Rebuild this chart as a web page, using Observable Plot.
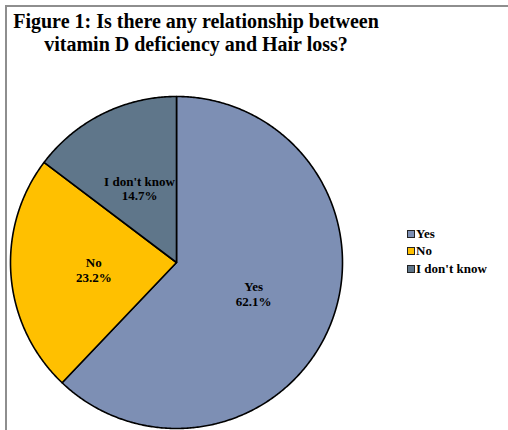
<!DOCTYPE html>
<html>
<head>
<meta charset="utf-8">
<script src="https://cdn.jsdelivr.net/npm/d3@7"></script>
<script src="https://cdn.jsdelivr.net/npm/@observablehq/plot@0.6"></script>
<style>
  html, body { margin: 0; padding: 0; background: #fff; }
  #wrap { position: relative; width: 508px; height: 430px; overflow: hidden; font-family: "Liberation Serif", "Times New Roman", serif; }
  #frame { position: absolute; left: 5px; top: 5px; width: 600px; height: 600px; border-left: 2px solid #8e8e8e; border-top: 2px solid #8e8e8e; }
  #title { position: absolute; left: 0; top: 10px; width: 392px; text-align: center; font-weight: bold; font-size: 20px; line-height: 23px; color: #000; }
  #chart { position: absolute; left: 0; top: 80px; }
  #legend { position: absolute; left: 407px; top: 225px; font-weight: bold; font-size: 13px; color: #000; }
  .li { display: flex; align-items: center; height: 17.5px; white-space: nowrap; }
  .sw { width: 6px; height: 6px; border: 1px solid #222; margin-right: 1px; }
</style>
</head>
<body>
<div id="wrap">
  <div id="frame"></div>
  <div id="title">Figure 1: Is there any relationship between<br>vitamin D deficiency and Hair loss?</div>
  <div id="chart"></div>
  <div id="legend"></div>
</div>
<script>
const categories = ["Yes", "No", "I don't know"];
const percents = [62.1, 23.2, 14.7];
const colors = ["#7d8fb4", "#ffc000", "#5f768a"];

const W = 508, H = 350;
const cx = 176, cy = 182, r = 166;

// slice polygons in unit space, clockwise from 12 o'clock
const total = d3.sum(percents);
const polyRows = [];
const labelRows = [];
let acc = 0;
categories.forEach((c, i) => {
  const a0 = acc / total * 2 * Math.PI;
  acc += percents[i];
  const a1 = acc / total * 2 * Math.PI;
  const n = Math.max(2, Math.ceil((a1 - a0) / (Math.PI / 360)));
  polyRows.push({key: c, color: colors[i], x: 0, y: 0});
  for (let k = 0; k <= n; k++) {
    const a = a0 + (a1 - a0) * k / n;
    polyRows.push({key: c, color: colors[i], x: Math.sin(a), y: Math.cos(a)});
  }
  polyRows.push({key: c, color: colors[i], x: 0, y: 0});
  const am = (a0 + a1) / 2;
  labelRows.push({x: 0.5 * Math.sin(am), y: 0.5 * Math.cos(am), text: c + "\n" + percents[i].toFixed(1) + "%"});
});

const chart = Plot.plot({
  width: W,
  height: H,
  margin: 0,
  x: {type: "linear", domain: [-1, 1], range: [cx - r, cx + r], axis: null},
  y: {type: "linear", domain: [-1, 1], range: [cy - r, cy + r], axis: null},
  style: {background: "transparent", overflow: "visible"},
  marks: [
    Plot.line(polyRows, {x: "x", y: d => -d.y, z: "key", fill: "color", stroke: "black", strokeWidth: 1.6, strokeLinejoin: "round"}),
    Plot.text(labelRows, {x: "x", y: d => -d.y, text: "text", fontFamily: "Liberation Serif", fontWeight: "bold", fontSize: 13, lineHeight: 1.15, fill: "black"})
  ]
});
document.getElementById("chart").appendChild(chart);

const legend = document.getElementById("legend");
categories.forEach((c, i) => {
  const row = document.createElement("div");
  row.className = "li";
  const sw = document.createElement("span");
  sw.className = "sw";
  sw.style.background = colors[i];
  const t = document.createElement("span");
  t.textContent = c;
  row.appendChild(sw);
  row.appendChild(t);
  legend.appendChild(row);
});
</script>
</body>
</html>
